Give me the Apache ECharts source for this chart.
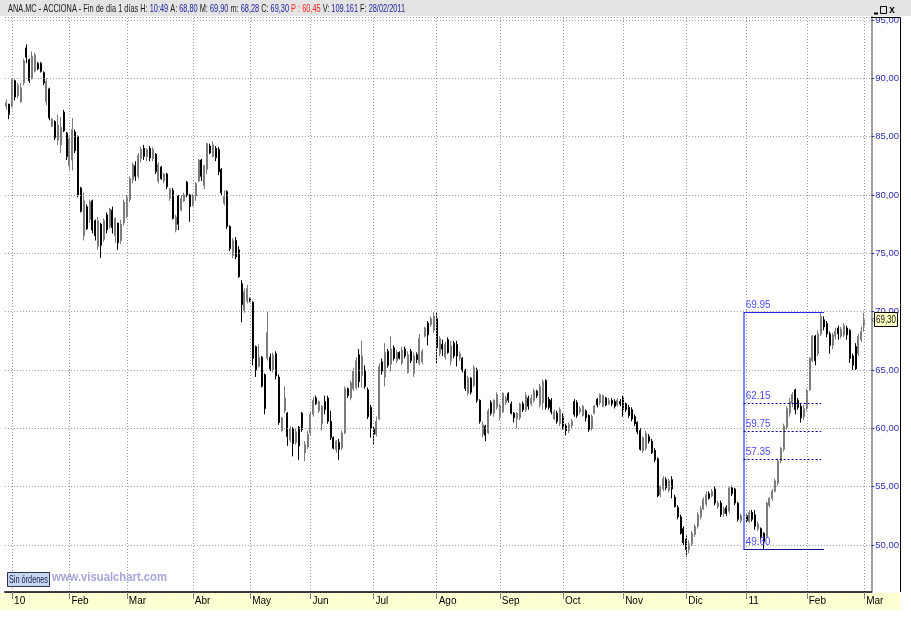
<!DOCTYPE html>
<html><head><meta charset="utf-8">
<script src="https://cdn.jsdelivr.net/npm/echarts@6/dist/echarts.min.js"></script>
<style>html,body{margin:0;padding:0;background:#fff;}#c{width:911px;height:629px;}</style>
</head><body><div id="c"></div>
<script>
// ---- tick labels ----
const monthLabels = ['10','Feb','Mar','Abr','May','Jun','Jul','Ago','Sep','Oct','Nov','Dic','11','Feb','Mar'];
const monthTickIndex = [2,22,42,65,85,106,128,150,172,194,215,237,258,279,299];
// ---- Fibonacci levels ----
const fibLevels = [69.95, 62.15, 59.75, 57.35, 49.60];
const fibStart = 257, fibEnd = 285, fibDashEnd = 284;
const lastPrice = 69.30;
// ---- daily candles [open, close, low, high] ----
const seg09 = [[87.6,87.9,87.3,88.2],[87.8,86.9,86.5,87.8]];
const jan10 = [
[87.6,89.9,87.5,90.0],[89.8,88.4,88.1,89.9],[88.5,89.4,88.3,89.6],[88.0,89.2,87.9,89.6],[89.6,91.5,89.4,91.7],
[92.6,91.8,91.3,92.9],[91.6,89.8,89.6,91.7],[90.0,91.9,89.9,92.3],[90.6,92.0,90.5,92.2],[91.3,90.8,90.7,91.4],
[91.3,90.6,90.5,91.4],[90.5,89.6,89.4,90.6],[88.0,89.7,87.7,90.0],[89.1,86.6,86.4,89.2],[85.9,86.5,85.8,86.6],
[86.3,84.9,84.7,86.4],[84.7,86.0,84.3,86.9],[84.3,85.8,83.6,86.7],[87.1,85.5,85.4,87.3],[85.3,83.3,83.0,85.4]];
const feb10 = [
[82.5,84.8,82.1,85.0],[83.0,85.6,82.1,86.6],[85.4,83.8,83.6,85.6],[85.0,80.0,79.8,85.1],[80.6,78.6,78.5,80.7],
[76.5,79.5,76.1,80.2],[79.0,77.1,77.0,79.2],[77.9,79.4,77.6,79.6],[79.5,77.0,76.7,79.6],[77.8,76.5,76.1,77.9],
[75.6,77.8,75.3,78.1],[77.5,75.7,74.6,77.6],[76.2,77.8,76.0,78.0],[78.3,77.0,76.7,78.5],[77.3,78.8,77.1,78.9],
[78.7,77.2,76.7,79.0],[76.5,78.0,75.9,78.1],[77.6,75.9,75.3,77.6],[76.1,77.5,75.8,77.9],[77.6,79.4,77.4,79.6]];
const mar10 = [
[78.2,79.8,78.0,80.0],[79.6,81.4,79.4,81.6],[81.3,82.6,81.0,82.8],[82.5,81.6,81.2,82.9],[81.6,83.4,81.4,83.6],
[83.1,83.9,82.8,84.1],[84.0,83.3,83.0,84.3],[83.3,83.9,82.9,84.0],[84.0,83.2,82.9,84.2],[83.1,83.9,82.9,84.1],
[83.5,82.0,81.8,83.6],[81.2,82.6,81.0,82.8],[82.4,81.4,81.3,82.5],[81.2,81.8,81.0,81.9],[81.8,80.7,80.5,81.9],
[79.7,80.5,79.5,80.6],[80.4,78.0,77.9,80.6],[77.0,78.1,76.8,78.3],[79.9,77.5,77.0,80.0],[78.7,79.7,78.6,80.0],
[79.5,80.0,79.4,80.2],[81.1,80.0,79.8,81.2],[80.0,79.0,77.7,80.1]];
const abr10 = [
[79.1,79.9,79.0,80.1],[79.9,81.0,79.5,81.1],[81.2,83.0,81.1,83.1],[83.0,81.6,81.2,83.1],[80.8,82.5,80.5,82.6],
[82.2,84.4,81.8,84.5],[84.2,83.6,83.5,84.4],[83.3,84.3,83.2,84.6],[84.0,83.2,82.9,84.2],[83.9,82.0,81.7,84.1],
[82.2,80.2,80.0,82.3],[79.3,79.9,79.1,80.4],[80.3,77.3,77.1,80.4],[77.3,75.4,75.2,77.4],[74.8,76.1,74.6,76.3],
[76.1,74.7,74.5,76.4],[75.3,73.0,72.9,75.6],[72.4,70.6,69.1,72.7],[70.1,71.7,69.9,72.0],[70.9,72.0,70.7,72.3]];
const may10 = [
[71.1,70.9,70.8,71.2],[70.8,66.0,65.4,70.9],[67.0,65.0,64.4,67.1],[65.3,66.1,65.2,67.2],[66.1,63.6,63.5,66.2],
[64.6,61.7,61.2,64.7],[66.0,68.2,65.8,70.0],[66.1,65.1,64.9,66.4],[65.0,66.3,64.8,66.5],[66.4,64.5,64.2,66.6],
[64.4,60.5,60.3,64.6],[59.8,60.9,59.7,61.0],[61.5,62.6,61.3,63.6],[61.3,59.3,58.5,61.4],[59.0,60.0,58.8,60.2],
[60.0,58.7,57.6,60.1],[58.8,59.7,58.6,60.0],[60.1,58.5,57.3,60.2],[61.3,59.9,59.7,61.4],[57.9,58.6,57.2,58.9],
[58.4,59.5,58.2,59.8]];
const jun10 = [
[59.6,61.2,59.4,61.5],[61.2,62.4,61.0,62.7],[62.6,62.1,62.0,62.8],[61.5,62.3,61.3,62.4],[60.4,61.9,59.8,62.0],
[62.3,61.6,61.2,62.8],[62.6,60.6,60.4,62.8],[60.6,59.2,59.0,61.5],[59.2,58.3,58.2,59.3],[58.2,58.9,57.9,59.0],
[58.8,58.2,57.3,59.1],[58.3,59.6,58.1,59.8],[59.6,63.4,59.5,63.6],[63.4,62.8,62.6,63.5],[62.6,63.9,62.4,64.1],
[63.4,64.9,63.2,65.2],[63.5,65.8,63.3,66.1],[66.3,64.0,63.5,66.8],[64.5,66.2,63.5,67.5],[65.0,63.6,63.4,65.4],
[63.3,61.0,60.8,63.5],[61.8,60.0,59.2,62.0]];
const jul10 = [
[60.0,59.5,58.6,60.2],[59.5,60.6,59.3,61.0],[60.8,65.3,60.7,65.6],[65.7,64.9,64.6,66.0],[64.4,66.5,63.6,67.3],
[66.6,65.4,65.2,66.8],[65.5,66.8,64.9,67.9],[66.9,66.0,65.8,67.1],[65.8,66.5,65.6,66.7],[66.5,66.0,65.9,66.6],
[65.6,66.7,65.4,67.0],[66.8,66.2,66.0,67.0],[64.8,66.3,64.7,66.6],[66.6,65.8,65.6,66.8],[64.7,66.2,64.4,66.5],
[66.3,65.9,65.6,66.5],[65.6,67.7,65.4,68.1],[65.7,66.6,65.5,66.8],[67.9,68.6,67.8,68.7],[69.0,68.0,67.1,69.2],
[68.9,69.4,68.7,69.6],[68.4,69.6,68.2,69.95]];
const ago10 = [
[69.4,66.9,65.5,69.9],[66.4,67.7,66.2,67.9],[67.2,66.8,66.2,67.6],[66.1,67.2,65.9,67.4],[67.6,66.5,66.4,67.8],
[65.8,67.1,65.4,67.5],[67.3,66.2,66.0,67.5],[67.2,66.2,65.3,67.5],[66.0,66.4,65.8,66.6],[66.0,65.0,64.8,66.1],
[65.0,63.4,63.2,65.1],[63.0,64.3,62.8,64.5],[64.3,63.1,62.9,64.4],[63.7,65.2,63.5,65.4],[65.0,62.4,62.2,65.2],
[62.4,60.6,60.4,62.5],[59.5,60.3,59.2,60.6],[60.2,59.4,58.9,60.3],[59.6,61.5,59.5,61.7],[62.2,61.3,61.1,62.4],
[61.3,62.4,61.0,62.5],[61.8,62.9,61.6,63.1]];
const sep10 = [
[61.0,61.9,60.7,62.1],[61.4,63.0,61.3,63.1],[62.2,62.6,62.0,62.8],[63.0,62.4,62.2,63.1],[62.1,61.3,61.2,62.3],
[61.3,60.9,60.5,61.4],[60.8,61.3,60.0,61.4],[60.9,62.1,60.7,62.2],[62.1,61.6,61.4,62.3],[61.6,62.8,61.4,63.1],
[62.6,61.9,61.6,62.8],[62.1,62.6,61.9,62.9],[62.4,63.2,62.2,63.4],[63.2,62.8,62.6,63.3],[62.0,63.6,61.8,63.8],
[62.2,64.0,61.6,64.2],[64.1,61.8,61.6,64.2],[62.5,61.8,61.6,62.7],[62.4,61.4,61.2,62.6],[60.8,61.4,60.7,61.6],
[61.3,60.6,60.4,61.5],[60.4,61.6,60.2,61.8]];
const oct10 = [
[61.0,60.1,59.9,61.3],[60.2,59.8,59.4,60.4],[59.8,60.3,59.6,60.5],[60.2,60.6,60.0,60.8],[62.3,61.2,61.0,62.5],
[62.2,61.1,60.9,62.4],[61.4,61.7,61.2,61.9],[61.1,61.9,61.0,62.0],[61.5,60.9,60.6,61.6],[61.1,59.9,59.7,61.2],
[60.0,61.0,59.8,61.2],[61.3,61.9,61.2,62.0],[62.5,62.0,61.8,62.6],[62.2,62.9,62.0,63.0],[61.9,62.8,61.8,62.9],
[62.6,62.0,61.9,62.7],[62.1,62.4,62.0,62.6],[62.4,62.1,61.9,62.6],[62.3,61.9,61.7,62.5],[62.0,62.4,61.9,62.6],
[62.3,62.1,61.9,62.5]];
const nov10 = [
[62.6,61.6,61.0,62.8],[62.1,61.6,61.4,62.2],[61.8,61.1,60.9,62.0],[61.6,60.8,60.6,61.8],[61.0,60.4,60.2,61.2],
[60.5,59.7,59.5,60.6],[59.8,58.2,58.1,60.0],[58.1,59.2,57.9,59.3],[58.3,59.6,58.1,59.8],[59.3,58.9,58.7,59.5],
[58.9,57.9,57.8,59.1],[58.1,57.3,57.1,58.3],[57.4,54.2,54.1,57.5],[54.3,55.0,54.1,55.1],[54.8,55.7,54.6,55.9],
[55.6,54.9,54.7,55.8],[54.7,55.5,54.5,55.7],[55.6,54.8,54.0,55.9],[54.1,53.3,53.2,54.3],[53.2,52.4,52.2,53.4],
[52.4,51.0,50.9,52.6],[51.4,50.2,50.0,51.6]];
const dic10 = [
[50.5,49.6,49.0,50.8],[49.6,50.1,49.3,50.4],[50.1,51.0,49.9,51.2],[50.9,51.6,50.7,51.8],[51.6,52.6,51.4,52.8],
[52.4,53.1,52.2,53.3],[53.1,53.9,53.0,54.1],[53.5,54.3,53.3,54.6],[54.4,54.0,53.9,54.6],[54.2,54.6,54.1,54.8],
[54.8,53.6,53.4,55.0],[53.3,53.6,53.1,53.8],[53.6,52.6,52.4,53.8],[52.7,53.1,52.4,53.3],[53.2,52.7,52.5,53.4],
[52.9,54.9,52.7,55.0],[54.9,54.4,54.2,55.1],[54.8,53.6,53.4,54.9],[53.6,52.2,52.0,53.7],[52.1,52.5,51.9,52.7],
[52.2,52.6,52.0,52.8]];
const jan11 = [
[52.5,52.1,51.9,52.6],[52.0,52.8,51.9,53.0],[52.8,52.2,52.0,53.0],[52.6,51.6,51.3,53.0],[51.4,51.8,51.2,52.0],
[51.4,50.7,50.4,51.5],[51.0,50.3,49.6,51.1],[50.7,53.6,50.6,53.7],[53.4,54.0,53.2,54.1],[54.0,54.6,53.8,54.8],
[54.6,55.5,54.5,55.7],[55.3,57.2,55.1,57.4],[57.2,58.3,57.0,58.4],[58.2,60.2,58.0,60.4],[60.1,61.7,59.9,61.9],
[61.3,62.3,61.0,62.6],[62.2,62.9,61.8,63.1],[63.3,61.6,61.2,63.4],[62.4,61.8,61.6,62.6],[61.9,60.9,60.5,62.1],
[61.0,61.7,60.7,62.0]];
const feb11 = [
[61.7,63.2,61.5,63.4],[63.3,66.0,63.2,66.1],[65.8,67.9,65.7,68.0],[67.9,65.8,65.4,68.0],[66.4,68.1,66.2,68.4],
[68.1,69.6,67.9,69.95],[69.3,68.7,68.4,69.6],[69.0,68.1,67.8,69.2],[68.1,67.1,66.4,68.3],[67.1,68.0,66.8,68.2],
[67.9,68.3,67.6,68.6],[68.6,68.1,67.6,68.8],[67.9,68.5,67.7,68.7],[68.0,68.8,67.8,69.0],[68.6,68.0,67.6,68.8],
[68.4,66.0,65.6,68.5],[66.2,65.4,65.0,66.4],[67.0,65.1,65.0,67.3],[66.4,67.9,66.2,68.1],[67.6,68.3,67.4,68.7],
[68.8,69.3,68.28,69.9]];

const candles = [].concat(seg09, jan10, feb10, mar10, abr10, may10, jun10, jul10, ago10, sep10, oct10, nov10, dic10, jan11, feb11);
const categories = [];
for (let i = 0; i < candles.length + 2; i++) categories.push(String(i));
const tickLabelAt = {};
monthTickIndex.forEach((idx, k) => { tickLabelAt[idx] = monthLabels[k]; });

// font helpers
const mctx = document.createElement('canvas').getContext('2d');
const FAM = "'Liberation Sans'";
function fitScale(text, font, width){ mctx.font = font; return width / mctx.measureText(text).width; }

const chart = echarts.init(document.getElementById('c'), null, {renderer: 'canvas', width: 911, height: 629});

const fmt = v => v.toFixed(2).replace('.', ',');
const fibColors = ['#2a2aee', '#00009a', '#00009a', '#00009a', '#14148c'];
const fibLabel = (txt) => ({show: true, position: 'insideStartTop', formatter: txt, color: '#4c4cff', fontSize: 10, fontFamily: FAM, distance: [2, 2]});
const fibData = [
  [{coord: [fibStart, fibLevels[4]], lineStyle: {color: '#8484ff', width: 2, type: 'solid'}, label: {show: false}}, {coord: [fibStart, fibLevels[0]]}],
  [{coord: [fibStart, fibLevels[0]], lineStyle: {color: fibColors[0], width: 1, type: 'solid'}, label: fibLabel('69.95')}, {coord: [fibEnd, fibLevels[0]]}],
  [{coord: [fibStart, fibLevels[1]], lineStyle: {color: fibColors[1], width: 1, type: [2, 2]}, label: fibLabel('62.15')}, {coord: [fibDashEnd, fibLevels[1]]}],
  [{coord: [fibStart, fibLevels[2]], lineStyle: {color: fibColors[2], width: 1, type: [2, 2]}, label: fibLabel('59.75')}, {coord: [fibDashEnd, fibLevels[2]]}],
  [{coord: [fibStart, fibLevels[3]], lineStyle: {color: fibColors[3], width: 1, type: [2, 2]}, label: fibLabel('57.35')}, {coord: [fibDashEnd, fibLevels[3]]}],
  [{coord: [fibStart, fibLevels[4]], lineStyle: {color: fibColors[4], width: 1, type: 'solid'}, label: fibLabel('49.60')}, {coord: [fibEnd, fibLevels[4]]}]
];

const headerText = '{k|ANA.MC - ACCIONA - Fin de día 1 días H:} {v|10:49} {k|A:} {v|68,80} {k|M:} {v|69,90} {k|m:} {v|68,28} {k|C:} {v|69,30} {r|P : 60,45} {k|V:} {v|109.161} {k|F:} {v|28/02/2011}';
const headerPlain = 'ANA.MC - ACCIONA - Fin de día 1 días H: 10:49 A: 68,80 M: 69,90 m: 68,28 C: 69,30 P : 60,45 V: 109.161 F: 28/02/2011';
const headerFont = "11px " + FAM;
const headerScale = fitScale(headerPlain, headerFont, 397);
const sinFont = "10px " + FAM;
const sinScale = fitScale('Sin órdenes', sinFont, 39);
const wmFont = "bold 13px 'Liberation Sans'";
const wmScale = fitScale('www.visualchart.com', wmFont, 115);
const tagFont = "10px " + FAM;
const tagScale = fitScale('69,30', tagFont, 20);

const option = {
  animation: false,
  backgroundColor: '#ffffff',
  grid: {left: 4.9, right: 39.7, top: 17, bottom: 37, containLabel: false},
  xAxis: {
    type: 'category', data: categories, boundaryGap: true, z: 5,
    axisLine: {show: true, lineStyle: {color: '#000', width: 1.5}},
    axisTick: {show: true, alignWithLabel: true, length: 7, interval: (i) => tickLabelAt[i] !== undefined, lineStyle: {color: '#808080', width: 1}},
    axisLabel: {show: true, interval: (i) => tickLabelAt[i] !== undefined, formatter: (v, i) => tickLabelAt[i] || '', align: 'left', padding: [0, 0, 0, 2], margin: 4, color: '#000', fontSize: 10, fontFamily: FAM},
    splitLine: {show: false}
  },
  yAxis: {
    type: 'value', position: 'right', min: 45.971, max: 95.257, splitNumber: 10, z: 5,
    axisLine: {show: true, lineStyle: {color: '#a0a0a0', width: 2}},
    axisTick: {show: true, length: 3, lineStyle: {color: '#3434b0'}},
    axisLabel: {show: true, showMinLabel: false, showMaxLabel: false, margin: 4, color: '#2c2cb4', fontSize: 9.5, fontFamily: FAM,
      formatter: v => (Math.abs(v / 5 - Math.round(v / 5)) < 1e-6 ? fmt(v) : '')},
    splitLine: {show: true, lineStyle: {color: '#9a9a9a', type: [1, 2], width: 1}}
  },
  series: [
    {type: 'line', data: [], silent: true, z: 1,
     markLine: {silent: true, symbol: ['none', 'none'], label: {show: false}, animation: false,
       lineStyle: {color: '#9a9a9a', type: [1, 2], width: 1},
       data: monthTickIndex.map(i => ({xAxis: i}))}},
    {type: 'candlestick', data: candles, z: 2, barWidth: 1.5,
     itemStyle: {color: '#7c7c7c', color0: '#000000', borderColor: '#7c7c7c', borderColor0: '#000000', borderWidth: 1},
     markLine: {silent: true, symbol: ['none', 'none'], animation: false, data: fibData}}
  ]
};
chart.setOption(option);

const py = chart.convertToPixel({gridIndex: 0}, [299, lastPrice])[1];
chart.setOption({graphic: [
  {type: 'rect', shape: {x: 0, y: 0, width: 911, height: 16}, style: {fill: '#e4e4e4'}, z: 20},
  {type: 'text', x: 8, y: 8.5, scaleX: headerScale, z: 21,
   style: {text: headerText, font: headerFont, fill: '#111', verticalAlign: 'middle', align: 'left',
     rich: {k: {fill: '#1a1a1a', font: headerFont}, v: {fill: '#2222a0', font: headerFont}, r: {fill: '#ff2020', font: headerFont}}}},
  // window buttons
  {type: 'line', shape: {x1: 874, y1: 13.5, x2: 878, y2: 13.5}, style: {stroke: '#000', lineWidth: 2}, z: 21},
  {type: 'rect', shape: {x: 880.5, y: 6.5, width: 6, height: 7}, style: {fill: 'none', stroke: '#000', lineWidth: 1}, z: 21},
  {type: 'text', x: 892, y: 10, z: 21, style: {text: 'x', font: "bold 10px 'Liberation Sans'", fill: '#000', align: 'center', verticalAlign: 'middle'}},
  // right panel frame
  {type: 'polyline', shape: {points: [[871, 17.5], [900.5, 17.5], [900.5, 592]]}, style: {stroke: '#000', lineWidth: 1, fill: 'none'}, z: 6},
  // x-axis band
  {type: 'rect', shape: {x: 0, y: 593, width: 900, height: 17}, style: {fill: '#ffffd4'}, z: 0},
  // orders button and watermark
  {type: 'rect', shape: {x: 7.5, y: 572.5, width: 42, height: 14}, style: {fill: '#c6d6ee', stroke: '#303050', lineWidth: 1}, z: 6},
  {type: 'text', x: 9, y: 580, scaleX: sinScale, z: 7, style: {text: 'Sin órdenes', font: sinFont, fill: '#1a1a50', align: 'left', verticalAlign: 'middle'}},
  {type: 'text', x: 52, y: 577, scaleX: wmScale, z: 6, style: {text: 'www.visualchart.com', font: wmFont, fill: '#a6a6da', align: 'left', verticalAlign: 'middle'}},
  // last price tag
  {type: 'polyline', shape: {points: [[874.5, py - 2.5], [872, py], [874.5, py + 2.5]]}, style: {stroke: '#555', lineWidth: 1, fill: 'none'}, z: 8},
  {type: 'rect', shape: {x: 874.5, y: Math.round(py) - 7.5, width: 23, height: 14}, style: {fill: '#ffffc4', stroke: '#000', lineWidth: 1}, z: 8},
  {type: 'text', x: 876, y: Math.round(py), scaleX: tagScale, z: 9, style: {text: fmt(lastPrice), font: tagFont, fill: '#111', align: 'left', verticalAlign: 'middle'}}
]});
</script>
</body></html>
